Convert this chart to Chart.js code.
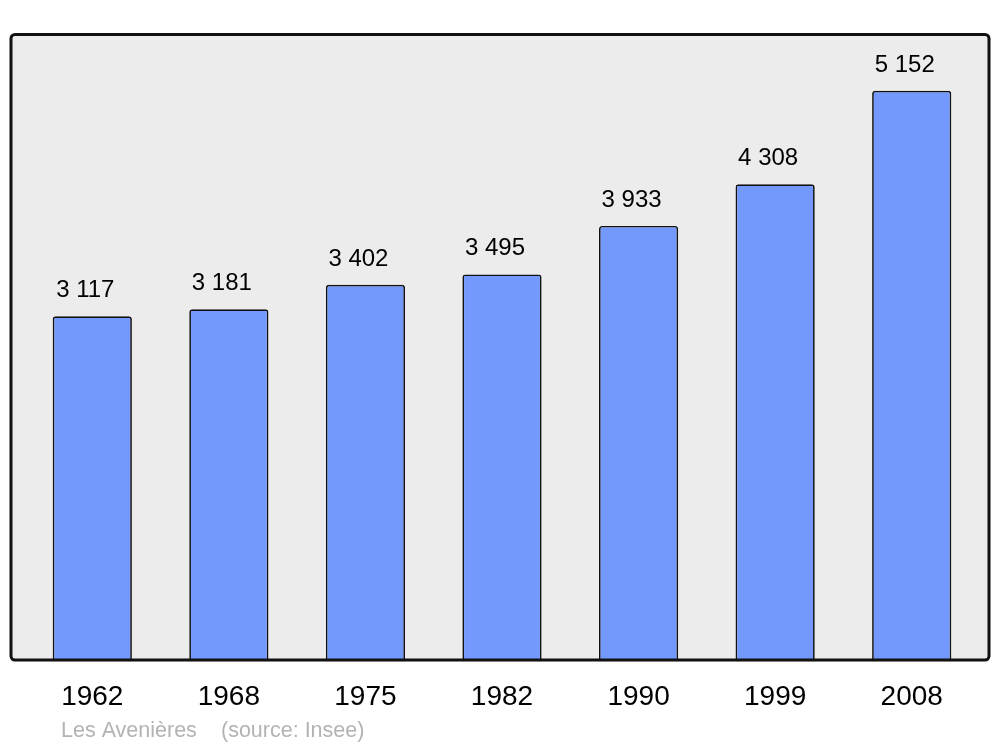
<!DOCTYPE html>
<html>
<head>
<meta charset="utf-8">
<script src="https://cdn.jsdelivr.net/npm/chart.js@4"></script>
<style>
  html, body { margin: 0; padding: 0; background: #ffffff; }
  #wrap { width: 1000px; height: 747px; position: relative; }
</style>
</head>
<body>
<div id="wrap"><canvas id="c" width="1000" height="747"></canvas></div>
<script>
const years = ['1962', '1968', '1975', '1982', '1990', '1999', '2008'];
const population = [3117, 3181, 3402, 3495, 3933, 4308, 5152];
const valueLabels = ['3 117', '3 181', '3 402', '3 495', '3 933', '4 308', '5 152'];
const placeName = 'Les Avenières';
const sourceText = '(source: Insee)';

const FONT = '"Liberation Sans", Arial, sans-serif';

const framePlugin = {
  id: 'frame',
  beforeDatasetsDraw(chart) {
    const ctx = chart.ctx;
    ctx.save();
    ctx.fillStyle = '#ececec';
    ctx.beginPath();
    ctx.roundRect(11, 34, 978, 626, 4);
    ctx.fill();
    ctx.restore();
  },
  afterDatasetsDraw(chart) {
    const ctx = chart.ctx;
    ctx.save();
    ctx.strokeStyle = '#111111';
    ctx.lineWidth = 3;
    ctx.beginPath();
    ctx.roundRect(11, 34.5, 978, 625.5, 4);
    ctx.stroke();

    // value labels above bars
    const meta = chart.getDatasetMeta(0);
    ctx.fillStyle = '#000000';
    ctx.font = '24px ' + FONT;
    ctx.textAlign = 'center';
    ctx.textBaseline = 'alphabetic';
    meta.data.forEach((bar, i) => {
      ctx.fillText(valueLabels[i], bar.x - 7, bar.y - 19);
    });

    // caption
    ctx.fillStyle = '#b3b3b3';
    ctx.font = '21.5px ' + FONT;
    ctx.textAlign = 'left';
    ctx.fillText(placeName, 61, 737);
    ctx.fillText(sourceText, 221, 737);
    ctx.restore();
  }
};

new Chart(document.getElementById('c'), {
  type: 'bar',
  data: {
    labels: years,
    datasets: [{
      data: population,
      backgroundColor: '#7399ff',
      borderColor: '#111111',
      borderWidth: 1.7,
      borderSkipped: 'bottom',
      borderRadius: { topLeft: 3, topRight: 3, bottomLeft: 0, bottomRight: 0 },
      barPercentage: 0.58,
      categoryPercentage: 1.0
    }]
  },
  options: {
    responsive: false,
    animation: false,
    devicePixelRatio: 1,
    layout: { padding: { left: 24, right: 20, top: 34, bottom: 15 } },
    plugins: { legend: { display: false }, tooltip: { enabled: false } },
    scales: {
      y: { display: false, min: 0, max: 5665 },
      x: {
        offset: true,
        grid: { display: false, drawTicks: false },
        border: { display: false },
        ticks: { color: '#000000', font: { family: FONT, size: 28 }, padding: 18.4 }
      }
    }
  },
  plugins: [framePlugin]
});
</script>
</body>
</html>
